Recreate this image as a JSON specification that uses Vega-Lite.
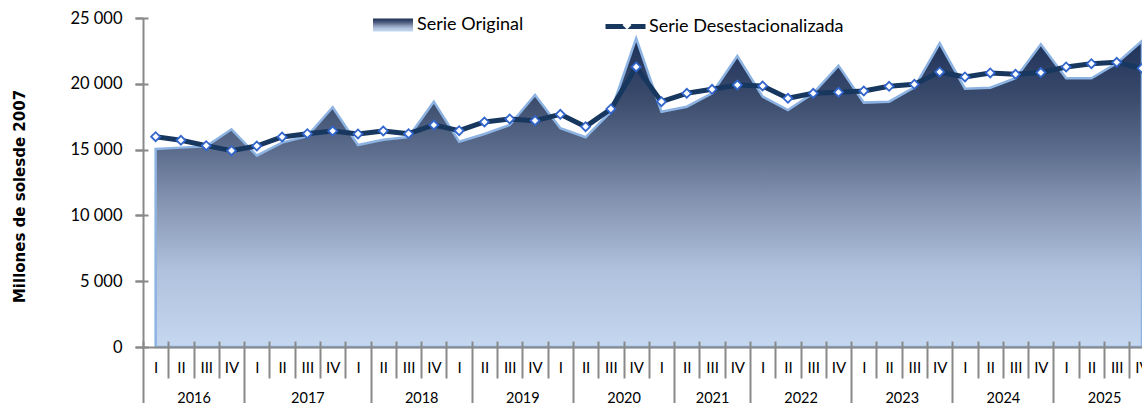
{
  "$schema": "https://vega.github.io/schema/vega-lite/v6.json",
  "width": 999,
  "height": 329,
  "autosize": "none",
  "padding": {"left": 143, "top": 18, "right": 0, "bottom": 56},
  "background": "white",
  "config": {"view": {"stroke": null}, "font": "Lato", "axis": {"grid": false}},
  "data": {
    "values": [
      {"i": 0, "periodo": "2016-I", "original": 15050, "desest": 15980},
      {"i": 1, "periodo": "2016-II", "original": 15150, "desest": 15710},
      {"i": 2, "periodo": "2016-III", "original": 15250, "desest": 15300},
      {"i": 3, "periodo": "2016-IV", "original": 16540, "desest": 14920},
      {"i": 4, "periodo": "2017-I", "original": 14540, "desest": 15275},
      {"i": 5, "periodo": "2017-II", "original": 15530, "desest": 15960},
      {"i": 6, "periodo": "2017-III", "original": 16020, "desest": 16210},
      {"i": 7, "periodo": "2017-IV", "original": 18215, "desest": 16415},
      {"i": 8, "periodo": "2018-I", "original": 15350, "desest": 16190},
      {"i": 9, "periodo": "2018-II", "original": 15750, "desest": 16415},
      {"i": 10, "periodo": "2018-III", "original": 15960, "desest": 16210},
      {"i": 11, "periodo": "2018-IV", "original": 18640, "desest": 16870},
      {"i": 12, "periodo": "2019-I", "original": 15600, "desest": 16440},
      {"i": 13, "periodo": "2019-II", "original": 16190, "desest": 17100},
      {"i": 14, "periodo": "2019-III", "original": 16870, "desest": 17330},
      {"i": 15, "periodo": "2019-IV", "original": 19150, "desest": 17200},
      {"i": 16, "periodo": "2020-I", "original": 16620, "desest": 17680},
      {"i": 17, "periodo": "2020-II", "original": 15935, "desest": 16745},
      {"i": 18, "periodo": "2020-III", "original": 17880, "desest": 18090},
      {"i": 19, "periodo": "2020-IV", "original": 23460, "desest": 21280},
      {"i": 20, "periodo": "2021-I", "original": 17880, "desest": 18645},
      {"i": 21, "periodo": "2021-II", "original": 18260, "desest": 19280},
      {"i": 22, "periodo": "2021-III", "original": 19280, "desest": 19580},
      {"i": 23, "periodo": "2021-IV", "original": 22115, "desest": 19910},
      {"i": 24, "periodo": "2022-I", "original": 19025, "desest": 19835},
      {"i": 25, "periodo": "2022-II", "original": 18010, "desest": 18900},
      {"i": 26, "periodo": "2022-III", "original": 19280, "desest": 19280},
      {"i": 27, "periodo": "2022-IV", "original": 21380, "desest": 19355},
      {"i": 28, "periodo": "2023-I", "original": 18570, "desest": 19455},
      {"i": 29, "periodo": "2023-II", "original": 18640, "desest": 19810},
      {"i": 30, "periodo": "2023-III", "original": 19735, "desest": 19960},
      {"i": 31, "periodo": "2023-IV", "original": 23075, "desest": 20900},
      {"i": 32, "periodo": "2024-I", "original": 19630, "desest": 20520},
      {"i": 33, "periodo": "2024-II", "original": 19705, "desest": 20825},
      {"i": 34, "periodo": "2024-III", "original": 20420, "desest": 20725},
      {"i": 35, "periodo": "2024-IV", "original": 23000, "desest": 20850},
      {"i": 36, "periodo": "2025-I", "original": 20420, "desest": 21280},
      {"i": 37, "periodo": "2025-II", "original": 20420, "desest": 21530},
      {"i": 38, "periodo": "2025-III", "original": 21560, "desest": 21635},
      {"i": 39, "periodo": "2025-IV", "original": 23250, "desest": 21180}
    ]
  },
  "layer": [
    {
      "mark": {
        "type": "area",
        "fill": {
          "gradient": "linear", "x1": 0, "y1": 0, "x2": 0, "y2": 1,
          "stops": [
            {"offset": 0, "color": "#1e3159"},
            {"offset": 0.2, "color": "#3b4c6d"},
            {"offset": 0.37, "color": "#5e6e8e"},
            {"offset": 0.53, "color": "#8494b1"},
            {"offset": 0.75, "color": "#afc1dc"},
            {"offset": 1, "color": "#c5d8f0"}
          ]
        },
        "stroke": "#8db3e2",
        "strokeWidth": 2.5
      },
      "encoding": {
        "x": {
          "field": "i", "type": "quantitative",
          "scale": {"domain": [-0.5, 39], "nice": false, "zero": false},
          "axis": {
            "orient": "bottom", "title": null, "labels": false, "domain": false, "offset": -6,
            "values": [-0.5, 0.5, 1.5, 2.5, 3.5, 4.5, 5.5, 6.5, 7.5, 8.5, 9.5, 10.5, 11.5, 12.5, 13.5, 14.5, 15.5, 16.5, 17.5, 18.5, 19.5, 20.5, 21.5, 22.5, 23.5, 24.5, 25.5, 26.5, 27.5, 28.5, 29.5, 30.5, 31.5, 32.5, 33.5, 34.5, 35.5, 36.5, 37.5, 38.5],
            "ticks": true, "tickColor": "#898989", "tickWidth": 2,
            "tickSize": {"condition": {"test": "indexof([-0.5, 3.5, 8.5, 12.5, 16.5, 20.5, 23.5, 27.5, 31.5, 35.5], datum.value) >= 0", "value": 68}, "value": 37},
            "zindex": 1
          }
        },
        "y": {
          "field": "original", "type": "quantitative",
          "title": "Millones de solesde 2007",
          "scale": {"domain": [0, 25000], "nice": false},
          "axis": {
            "orient": "left",
            "values": [0, 5000, 10000, 15000, 20000, 25000],
            "labelExpr": "replace(format(datum.value, ','), ',', ' ')",
            "domainColor": "#898989", "domainWidth": 2,
            "tickColor": "#898989", "tickWidth": 2, "tickSize": 8,
            "labelPadding": 13, "labelFontSize": 16.5, "labelColor": "#000000", "labelFont": "Lato",
            "titleFont": "DejaVu Sans", "titleFontWeight": "bold", "titleFontSize": 15, "titleColor": "#000000",
            "titleX": -119, "titleY": 178, "titleAngle": -90, "titleBaseline": "alphabetic", "titleAlign": "center",
            "zindex": 1
          }
        },
        "opacity": {
          "datum": "Serie Original",
          "type": "nominal",
          "scale": {"range": [1, 1]},
          "legend": {
            "title": null, "orient": "none", "legendX": 229, "legendY": -14, "padding": 0,
            "symbolType": "M-1,-0.32H1V0.32H-1Z", "symbolSize": 1600,
            "symbolStrokeColor": "#8db3e2", "symbolStrokeWidth": 2, "symbolFillColor": "#34466a", "symbolOpacity": 1,
            "labelFontSize": 18, "labelFont": "Lato", "labelColor": "#000000", "labelOffset": 3, "labelLimit": 400,
            "encode": {
              "symbols": {
                "fill": {"value": {"gradient": "linear", "x1": 0, "y1": 0, "x2": 0, "y2": 1, "stops": [{"offset": 0, "color": "#1e3159"}, {"offset": 0.5, "color": "#4a5b7c"}, {"offset": 1, "color": "#8e9dba"}]}},
                "stroke": {"value": "#8db3e2"},
                "opacity": {"value": 1}
              }
            }
          }
        }
      }
    },
    {
      "mark": {"type": "line", "strokeWidth": 5, "strokeJoin": "round"},
      "encoding": {
        "x": {
          "field": "i", "type": "quantitative",
          "scale": {"domain": [-0.5, 39], "nice": false, "zero": false},
          "axis": {
            "orient": "bottom", "title": null,
            "values": [0, 1, 2, 3, 4, 5, 6, 7, 8, 9, 10, 11, 12, 13, 14, 15, 16, 17, 18, 19, 20, 21, 22, 23, 24, 25, 26, 27, 28, 29, 30, 31, 32, 33, 34, 35, 36, 37, 38, 39],
            "labelExpr": "['I','II','III','IV'][datum.value % 4]",
            "ticks": false, "domain": true, "domainColor": "#898989", "domainWidth": 2,
            "labelPadding": 13, "labelBaseline": "top", "labelFontSize": 15, "labelFont": "Lato", "labelColor": "#000000",
            "labelFlush": false, "labelOverlap": false, "labelBound": false, "zindex": 1
          }
        },
        "y": {
          "field": "desest", "type": "quantitative", "scale": {"domain": [0, 25000], "nice": false},
          "axis": {
            "orient": "left", "title": null, "labels": false, "domain": false, "offset": -5,
            "values": [0, 5000, 10000, 15000, 20000, 25000],
            "tickColor": "#898989", "tickWidth": 2, "tickSize": 13, "zindex": 1
          }
        },
        "stroke": {
          "datum": "Serie Desestacionalizada",
          "scale": {"range": ["#17375e"]},
          "legend": {
            "title": null, "orient": "none", "legendX": 460, "legendY": -14, "padding": 0,
            "symbolType": "stroke", "symbolSize": 1600, "symbolStrokeWidth": 5,
            "labelFontSize": 18, "labelFont": "Lato", "labelColor": "#000000", "labelOffset": 1, "labelLimit": 400,
            "zindex": 0
          }
        }
      }
    },
    {
      "mark": {"type": "point", "filled": true, "fill": "white", "stroke": "#3366cc", "strokeWidth": 1.8, "size": 80, "opacity": 1},
      "encoding": {
        "x": {
          "field": "i", "type": "quantitative",
          "scale": {"domain": [-0.5, 39], "nice": false, "zero": false},
          "axis": {
            "orient": "bottom", "title": null,
            "values": [1.5, 6, 10.5, 14.5, 18.5, 22, 25.5, 29.5, 33.5, 37.5],
            "labelExpr": "['2016','2017','2018','2019','2020','2021','2022','2023','2024','2025'][indexof([1.5, 6, 10.5, 14.5, 18.5, 22, 25.5, 29.5, 33.5, 37.5], datum.value)]",
            "ticks": false, "domain": false,
            "labelPadding": 44, "labelBaseline": "top", "labelFontSize": 14.5, "labelFont": "Lato", "labelColor": "#000000",
            "labelFlush": false, "labelOverlap": false, "labelBound": false, "zindex": 1
          }
        },
        "y": {"field": "desest", "type": "quantitative", "scale": {"domain": [0, 25000], "nice": false}, "axis": null},
        "shape": {
          "datum": "marca",
          "scale": {"range": ["diamond"]},
          "legend": {
            "title": null, "orient": "none", "legendX": 475, "legendY": -2, "padding": 0,
            "symbolType": "diamond", "symbolSize": 80,
            "symbolFillColor": "white", "symbolStrokeColor": "#3366cc", "symbolStrokeWidth": 1.8,
            "labelExpr": "''", "labelFontSize": 18,
            "zindex": 1
          }
        }
      }
    }
  ],
  "resolve": {"axis": {"x": "independent", "y": "independent"}}
}
